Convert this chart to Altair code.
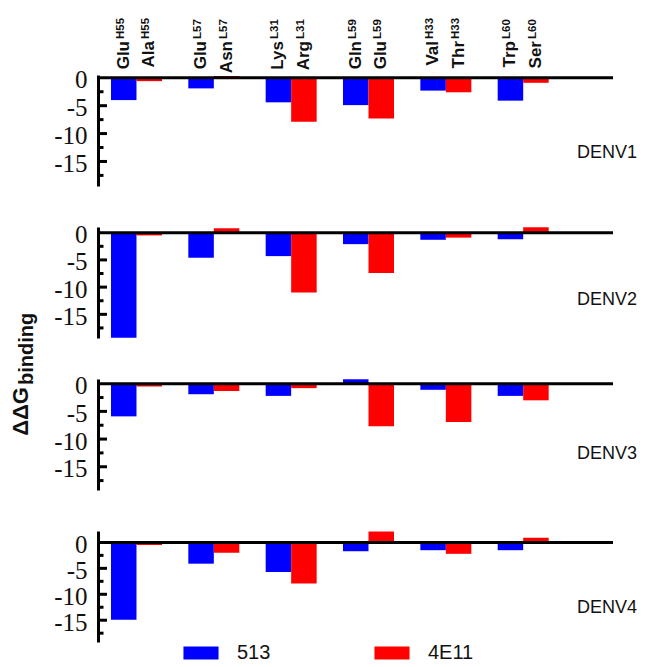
import altair as alt
import pandas as pd

groups = ["H55", "L57", "L31", "L59", "H33", "L60"]
series = ["513", "4E11"]
names_513 = ["Glu", "Glu", "Lys", "Gln", "Val", "Trp"]
names_4e11 = ["Ala", "Asn", "Arg", "Glu", "Thr", "Ser"]
panels = ["DENV1", "DENV2", "DENV3", "DENV4"]

denv1_513 = [-4.0, -1.9, -4.4, -4.9, -2.3, -4.1]
denv1_4e11 = [-0.6, 0.3, -7.9, -7.3, -2.6, -0.9]
denv2_513 = [-19.3, -4.6, -4.3, -2.1, -1.3, -1.2]
denv2_4e11 = [-0.5, 0.8, -11.0, -7.4, -0.9, 1.0]
denv3_513 = [-5.9, -1.9, -2.2, 0.8, -1.1, -2.2]
denv3_4e11 = [-0.5, -1.3, -0.8, -7.7, -6.9, -3.0]
denv4_513 = [-14.9, -4.1, -5.7, -1.7, -1.5, -1.5]
denv4_4e11 = [-0.5, -2.0, -7.9, 2.1, -2.2, 0.9]

major_ticks = [0, -5, -10, -15]
minor_ticks = [-2.5, -7.5, -12.5, -17.5]

colors = ["#0000ff", "#ff0000"]
W = 515
H = 111

YAXIS = alt.Axis(
    values=major_ticks, ticks=False, grid=False, domain=True, domainWidth=3,
    domainColor="black", labelFont="Liberation Serif", labelFontSize=25,
    labelColor="#111", labelPadding=11, labelOffset=2, title=None, labelOverlap=False,
    labelExpr="datum.value == 0 ? '0' : '-' + abs(datum.value)")


def panel(name, va, vb, dom, label_y, first=False, ytitle=False):
    df = pd.DataFrame({
        "group": groups * 2,
        "series": ["513"] * 6 + ["4E11"] * 6,
        "value": va + vb,
        "name": names_513 + names_4e11,
        "sup": groups * 2,
    })
    base = alt.Chart(df)
    xscale = alt.Scale(domain=groups, paddingInner=0.3406, paddingOuter=0.4998, align=0.168)
    xenc = alt.X("group:N", sort=groups, axis=None, scale=xscale)
    xoff = alt.XOffset("series:N", sort=series, scale=alt.Scale(paddingInner=0, paddingOuter=0))
    ysc = alt.Scale(domain=dom, nice=False, zero=False)
    legend = None
    if first:
        legend = alt.Legend(orient="none", legendX=93, legendY=568, direction="horizontal",
                            title=None, symbolType="M-2.7,-1L2.7,-1L2.7,1L-2.7,1Z",
                            symbolSize=169, symbolStrokeWidth=0, labelOffset=26,
                            columnPadding=103, labelFontSize=20, labelFont="Liberation Sans",
                            labelColor="#111")
    bars = base.mark_bar().encode(
        x=xenc, xOffset=xoff,
        y=alt.Y("value:Q", scale=ysc, axis=YAXIS),
        y2=alt.datum(0),
        color=alt.Color("series:N", sort=series,
                        scale=alt.Scale(domain=series, range=colors), legend=legend),
    )
    tdf = pd.DataFrame({"value": major_ticks[1:]})
    mdf = pd.DataFrame({"value": minor_ticks})
    maj = alt.Chart(tdf).mark_rule(strokeWidth=3, color="black").encode(
        y=alt.Y("value:Q", scale=ysc, axis=YAXIS), x=alt.value(0), x2=alt.value(9))
    mnr = alt.Chart(mdf).mark_rule(strokeWidth=3, color="black").encode(
        y=alt.Y("value:Q", scale=ysc, axis=YAXIS), x=alt.value(0), x2=alt.value(5.5))
    zdf = pd.DataFrame({"value": [0]})
    zero = alt.Chart(zdf).mark_rule(strokeWidth=3, color="black").encode(
        y=alt.Y("value:Q", scale=ysc, axis=YAXIS), x=alt.value(0), x2=alt.value(W))
    ldf = pd.DataFrame({"t": [name]})
    lab = alt.Chart(ldf).mark_text(align="right", baseline="middle", fontSize=18,
                                   font="Liberation Sans", color="#111").encode(
        text="t:N", x=alt.value(539), y=alt.value(label_y))
    layers = [bars, maj, mnr, zero, lab]
    if first:
        nm = base.mark_text(angle=270, align="right", baseline="middle",
                            fontSize=17, fontWeight="bold", font="Liberation Sans",
                            color="#111").encode(
            x=xenc, xOffset=xoff, y=alt.value(-34), text="name:N")
        sp = base.mark_text(angle=270, align="left", baseline="middle", dx=2, dy=-3,
                            fontSize=11.5, fontWeight="bold", font="Liberation Sans",
                            color="#111").encode(
            x=xenc, xOffset=xoff, y=alt.value(-34), text="sup:N")
        layers += [nm, sp]
    if ytitle:
        t1 = alt.Chart(pd.DataFrame({"t": ["ΔΔG"]})).mark_text(
            angle=270, align="right", baseline="alphabetic", fontSize=22, fontWeight="bold",
            font="Liberation Sans", color="#111").encode(text="t:N", x=alt.value(-70), y=alt.value(8))
        t2 = alt.Chart(pd.DataFrame({"t": ["binding"]})).mark_text(
            angle=270, align="left", baseline="alphabetic", dx=2, fontSize=20, fontWeight="bold",
            font="Liberation Sans", color="#111").encode(text="t:N", x=alt.value(-65), y=alt.value(8))
        layers += [t1, t2]
    return alt.layer(*layers).properties(width=W, height=H)


p1 = panel("DENV1", denv1_513, denv1_4e11, [-19.4, 0.5], 77.5, first=True)
p2 = panel("DENV2", denv2_513, denv2_4e11, [-19.35, 1.05], 73)
p3 = panel("DENV3", denv3_513, denv3_4e11, [-19.2, 0.85], 75.3, ytitle=True)
p4 = panel("DENV4", denv4_513, denv4_4e11, [-19.2, 2.2], 76.7)

chart = alt.vconcat(p1, p2, p3, p4, spacing=41, bounds="flush").properties(
    padding={"top": 17, "left": 10, "right": 10, "bottom": 3},
    background="white",
).configure_view(stroke=None)

chart.save("out.html", embed_options={"renderer": "svg", "actions": False})
